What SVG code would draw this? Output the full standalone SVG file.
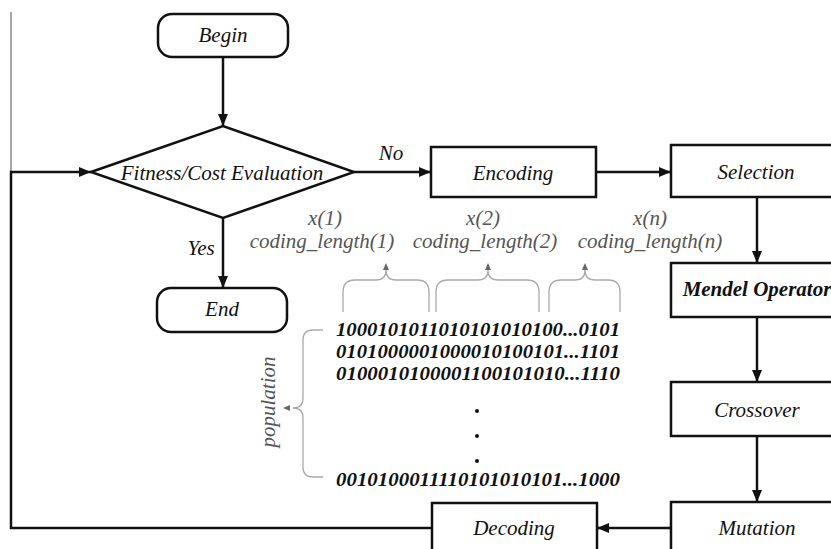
<svg xmlns="http://www.w3.org/2000/svg" width="831" height="549" viewBox="0 0 831 549">
<style>
.box{fill:#fff;stroke:#111;stroke-width:2.5}
.t{font-family:'Liberation Serif','DejaVu Serif',serif;font-style:italic;font-size:21px;fill:#111;text-anchor:middle}
.b{font-weight:bold}
.g{fill:#555}
.bin{font-family:'Liberation Serif','DejaVu Serif',serif;font-style:italic;font-weight:bold;font-size:19px;fill:#111}
.c{fill:none;stroke:#111;stroke-width:2.5}
.br{fill:none;stroke:#aaa;stroke-width:1.3}
.ga{fill:#666}
</style>
<defs>
<marker id="ah" viewBox="0 0 12 10" refX="12" refY="5" markerWidth="12" markerHeight="10" markerUnits="userSpaceOnUse" orient="auto">
<path d="M0,0 L12,5 L0,10 Z" fill="#111"/>
</marker>
</defs>
<rect width="831" height="549" fill="#fff"/>

<g id="connectors">
<line x1="11" y1="12" x2="11" y2="172" stroke="#888" stroke-width="1.5"/>
<line class="c" x1="223" y1="57" x2="223" y2="126" marker-end="url(#ah)"/>
<line class="c" x1="223" y1="218" x2="223" y2="288" marker-end="url(#ah)"/>
<line class="c" x1="354" y1="172" x2="431" y2="172" marker-end="url(#ah)"/>
<line class="c" x1="596" y1="172" x2="671" y2="172" marker-end="url(#ah)"/>
<line class="c" x1="757" y1="197" x2="757" y2="263" marker-end="url(#ah)"/>
<line class="c" x1="757" y1="317" x2="757" y2="382" marker-end="url(#ah)"/>
<line class="c" x1="757" y1="436" x2="757" y2="502" marker-end="url(#ah)"/>
<line class="c" x1="671" y1="528" x2="597" y2="528" marker-end="url(#ah)"/>
<path class="c" d="M432,528 H11 V172 H91" marker-end="url(#ah)"/>
</g>

<g id="begin">
<rect class="box" x="158" y="14" width="130" height="43" rx="14"/>
<text class="t" x="223" y="42">Begin</text>
</g>
<g id="evaluation">
<polygon class="box" points="91,172 223,126 354,172 223,218"/>
<text class="t" x="222" y="180">Fitness/Cost Evaluation</text>
</g>
<g id="end">
<rect class="box" x="157" y="288" width="130" height="44" rx="14"/>
<text class="t" x="222" y="316">End</text>
</g>
<g id="encoding">
<rect class="box" x="431" y="147" width="165" height="50"/>
<text class="t" x="513" y="180">Encoding</text>
</g>
<g id="selection">
<rect class="box" x="671" y="145" width="175" height="52"/>
<text class="t" x="756" y="179">Selection</text>
</g>
<g id="mendel">
<rect class="box" x="671" y="263" width="175" height="54"/>
<text class="t b" x="757" y="296">Mendel Operator</text>
</g>
<g id="crossover">
<rect class="box" x="671" y="382" width="175" height="54"/>
<text class="t" x="757" y="417">Crossover</text>
</g>
<g id="mutation">
<rect class="box" x="671" y="502" width="175" height="60"/>
<text class="t" x="757" y="535">Mutation</text>
</g>
<g id="decoding">
<rect class="box" x="432" y="503" width="165" height="60"/>
<text class="t" x="514" y="535">Decoding</text>
</g>

<g id="labels">
<text class="t" x="391" y="160">No</text>
<text class="t" x="201" y="255">Yes</text>
<text class="t g" x="325" y="225">x(1)</text>
<text class="t g" x="322" y="248">coding_length(1)</text>
<text class="t g" x="483" y="225">x(2)</text>
<text class="t g" x="485" y="248">coding_length(2)</text>
<text class="t g" x="650" y="225">x(n)</text>
<text class="t g" x="650" y="248">coding_length(n)</text>
<text class="t g" transform="translate(275,402) rotate(-90)">population</text>
</g>

<g id="braces">
<path class="br" d="M343,312 V292 Q343,280 355,280 H376 Q386,280 386,270 Q386,280 396,280 H417 Q429,280 429,292 V312"/>
<polygon class="ga" points="386,263 383,270 389,270"/>
<path class="br" d="M436,312 V292 Q436,280 448,280 H478 Q488,280 488,270 Q488,280 498,280 H527 Q539,280 539,292 V312"/>
<polygon class="ga" points="488,263 485,270 491,270"/>
<path class="br" d="M549,312 V292 Q549,280 561,280 H575 Q585,280 585,270 Q585,280 595,280 H608 Q620,280 620,292 V312"/>
<polygon class="ga" points="585,263 582,270 588,270"/>
<path class="br" d="M323,330 H313 Q303,330 303,340 V398 Q303,408 293,408 Q303,408 303,418 V467 Q303,477 313,477 H323"/>
<polygon class="ga" points="283,408 290,405 290,411"/>
</g>

<g id="population">
<text class="bin" x="336" y="336" textLength="284" lengthAdjust="spacingAndGlyphs">1000101011010101010100...0101</text>
<text class="bin" x="336" y="358" textLength="284" lengthAdjust="spacingAndGlyphs">0101000001000010100101...1101</text>
<text class="bin" x="336" y="380" textLength="284" lengthAdjust="spacingAndGlyphs">0100010100001100101010...1110</text>
<circle cx="477" cy="411" r="2" fill="#111"/>
<circle cx="477" cy="436" r="2" fill="#111"/>
<circle cx="477" cy="461" r="2" fill="#111"/>
<text class="bin" x="336" y="486" textLength="284" lengthAdjust="spacingAndGlyphs">0010100011110101010101...1000</text>
</g>
</svg>
